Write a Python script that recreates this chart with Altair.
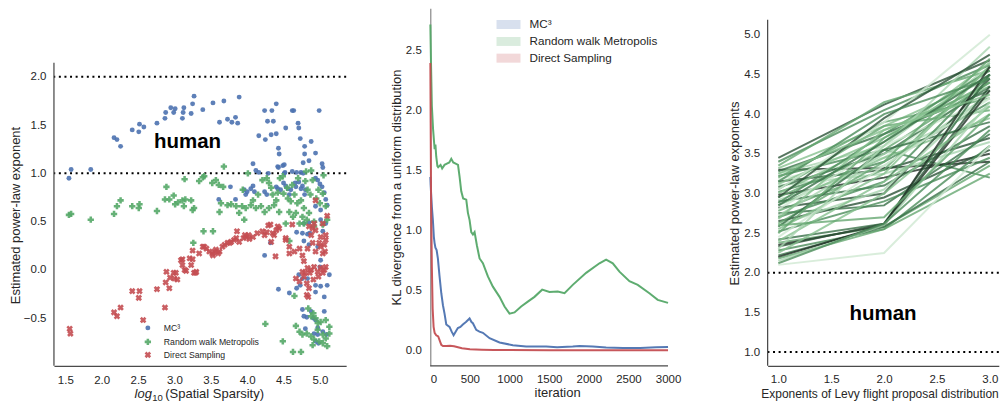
import altair as alt
import pandas as pd

FONT = "Liberation Sans"
BLUE, GREEN, RED = "#4C72B0", "#55A868", "#C44E52"
TXT = "#262626"

methods = ["MC\u00b3", "Random walk Metropolis", "Direct Sampling"]

# ---------------- left panel: scatter ----------------
mc3_x = [1.55, 1.58, 1.85, 2.17, 2.21, 2.26, 2.42, 2.51, 2.52, 2.58, 2.76, 2.87, 2.88, 2.95, 2.99, 3.01,
         3.11, 3.13, 3.12, 3.23, 3.25, 3.27, 3.39, 3.53, 3.68, 3.89, 3.62, 3.73, 3.79, 3.84, 3.87, 4.16,
         4.25, 4.33, 4.40, 4.24, 4.34, 4.40, 4.28, 4.36, 4.62, 4.64, 4.70, 4.71, 4.53, 4.73, 4.43, 4.44,
         4.79, 4.79, 4.88, 4.77, 4.85, 4.94, 4.99, 5.03, 5.04, 4.08, 4.12, 4.16, 4.43, 4.49, 4.29, 4.52,
         4.62, 4.68, 3.77, 3.61, 3.84, 3.96, 4.05, 4.08, 3.98, 4.24, 4.27, 4.42, 4.46, 4.50, 4.53, 4.56,
         4.60, 4.58, 4.66, 4.71, 4.76, 4.79, 4.80, 4.94, 5.03, 5.06, 5.08, 4.97, 4.94, 5.01, 5.10, 4.78,
         4.85, 4.51, 4.42, 4.51, 4.74, 4.77, 4.40, 4.67, 4.74, 5.00, 4.00, 4.10, 4.24, 4.43, 4.58, 4.68,
         4.71, 4.76, 4.83, 4.73, 4.94, 5.01, 5.10, 5.13, 4.94, 5.06, 4.68, 4.76, 4.83, 4.86, 4.78, 4.85,
         4.97, 5.01, 5.04, 5.01, 5.08, 4.32, 4.76, 4.88, 4.91, 4.82, 4.94, 5.06, 4.97, 4.80, 4.92, 4.97,
         5.04, 5.09, 4.98, 4.94, 4.78, 5.00]
mc3_y = [0.95, 1.04, 1.04, 1.37, 1.35, 1.28, 1.45, 1.43, 1.51, 1.48, 1.52, 1.57, 1.63, 1.68, 1.63, 1.67,
         1.57, 1.68, 1.63, 1.62, 1.72, 1.80, 1.66, 1.73, 1.75, 1.79, 1.53, 1.56, 1.53, 1.58, 1.52, 1.39,
         1.35, 1.40, 1.41, 1.65, 1.65, 1.72, 1.54, 1.54, 1.65, 1.65, 1.52, 1.47, 1.47, 1.36, 1.26, 1.20,
         1.28, 1.20, 1.33, 1.11, 1.13, 1.21, 1.65, 1.10, 1.06, 1.10, 1.03, 1.01, 1.06, 1.08, 1.00, 1.01,
         1.02, 1.01, 0.86, 0.73, 0.73, 0.83, 0.84, 0.87, 0.78, 0.81, 0.78, 0.84, 0.83, 0.90, 0.87, 0.84,
         0.83, 0.78, 0.90, 0.91, 0.87, 0.78, 0.83, 0.95, 0.86, 0.80, 0.73, 0.93, 0.66, 0.62, 0.67, 0.48,
         0.49, 1.09, 1.07, 1.00, 1.01, 1.00, 0.86, 0.86, 0.84, 0.89, 0.81, 0.81, 0.15, -0.20, -0.24, -0.19,
         -0.05, -0.09, -0.09, -0.16, -0.16, -0.17, -0.16, -0.05, -0.23, -0.28, 0.39, 0.38, 0.37, 0.38, 0.30, 0.26,
         0.24, 0.10, 0.40, 0.52, 0.48, 0.28, -0.41, -0.43, -0.50, -0.49, -0.52, -0.43, -0.60, -0.61, -0.66, -0.67,
         -0.64, -0.67, -0.76, -0.74, -0.48, 0.03]

rwm_x = [1.55, 1.58, 1.85, 2.17, 2.21, 2.26, 2.42, 2.51, 2.52, 2.76, 2.89, 2.87, 2.93, 2.99, 3.01, 3.05,
         3.11, 3.13, 3.15, 3.23, 3.25, 3.27, 3.34, 3.14, 3.39, 3.68, 3.41, 3.52, 3.57, 3.61, 3.62, 3.64,
         3.73, 3.78, 3.85, 3.93, 3.98, 4.05, 4.12, 4.19, 4.24, 4.30, 4.37, 4.44, 3.67, 3.94, 3.96, 3.89,
         4.01, 4.21, 4.30, 4.35, 4.40, 4.45, 4.50, 4.56, 4.60, 4.65, 4.69, 4.74, 4.78, 4.83, 4.87, 4.90,
         4.95, 5.00, 5.04, 5.08, 4.85, 4.76, 4.67, 4.58, 4.53, 4.63, 4.72, 4.82, 4.92, 4.81, 4.88, 4.49,
         4.27, 3.53, 3.26, 4.58, 4.65, 4.25, 4.49, 4.63, 4.74, 4.84, 4.88, 4.91, 4.94, 4.97, 5.01, 5.08,
         4.67, 4.72, 4.76, 4.82, 4.88, 4.92, 4.97, 5.04, 5.08, 5.13, 5.04, 5.10, 4.90, 4.99, 5.13, 3.40,
         4.78, 4.92, 5.04, 5.10, 4.62, 4.70, 4.80, 4.98, 5.05, 4.55, 4.42, 4.33, 4.15, 4.08]
rwm_y = [0.57, 0.58, 0.52, 0.58, 0.66, 0.72, 0.66, 0.64, 0.68, 0.61, 0.86, 0.73, 0.73, 0.77, 0.68, 0.70,
         0.72, 0.66, 0.73, 0.72, 0.62, 0.64, 0.92, 0.94, 0.96, 1.07, 0.97, 0.90, 0.93, 0.88, 0.60, 0.69,
         0.67, 0.68, 0.66, 0.66, 0.64, 0.67, 0.64, 0.66, 0.60, 0.64, 0.67, 0.60, 0.86, 0.83, 0.52, 0.59,
         1.00, 0.93, 0.90, 0.78, 0.72, 0.95, 0.79, 0.74, 0.71, 0.78, 0.69, 0.72, 0.64, 0.83, 0.78, 0.93,
         0.74, 0.69, 0.79, 0.66, 0.59, 0.55, 0.59, 0.60, 0.48, 0.55, 0.48, 0.52, 0.45, 1.02, 1.03, 0.97,
         0.95, 0.40, 0.28, 0.30, -0.27, -0.56, -0.74, -0.85, -0.85, -0.40, -0.48, -0.45, -0.50, -0.55, -0.54, -0.52,
         -0.58, -0.64, -0.67, -0.66, -0.69, -0.72, -0.62, -0.67, -0.71, -0.66, -0.76, -0.79, -0.78, -0.74, -0.59, 0.40,
         0.48, 0.50, 0.47, 0.52, 0.88, 0.95, 0.92, 0.83, 0.98, 0.85, 0.80, 0.85, 0.78, 0.72]

ds_x = [1.56, 1.57, 2.17, 2.21, 2.26, 2.42, 2.52, 2.51, 2.57, 2.76, 2.87, 2.88, 2.93, 2.94, 2.99, 3.02,
        3.04, 3.11, 3.11, 3.14, 3.16, 3.23, 3.25, 3.27, 3.34, 3.25, 3.39, 3.21, 3.29, 3.41, 3.48, 3.52,
        3.55, 3.57, 3.62, 3.66, 3.69, 3.73, 3.78, 3.82, 3.85, 3.89, 3.95, 3.99, 4.03, 4.08, 4.14, 4.24,
        4.27, 4.32, 4.37, 4.40, 4.44, 4.33, 4.53, 4.62, 4.39, 3.44, 3.53, 3.60, 3.76, 3.86, 3.97, 4.02,
        4.21, 4.29, 4.35, 4.42, 4.58, 4.65, 4.72, 4.76, 4.83, 4.90, 4.94, 4.99, 5.01, 5.06, 5.08, 5.04,
        5.07, 4.78, 4.83, 4.88, 4.92, 4.97, 5.01, 5.06, 5.08, 5.04, 4.76, 4.80, 4.86, 4.67, 4.72, 4.78,
        4.82, 4.91, 4.98, 4.85, 4.82, 4.84, 5.04, 5.08, 4.90, 4.85, 4.88, 4.94, 5.01, 4.92, 4.94, 5.10,
        4.58, 4.53, 2.89, 3.00, 3.09, 3.30]
ds_y = [-0.61, -0.66, -0.44, -0.48, -0.39, -0.22, -0.22, -0.29, -0.52, -0.20, -0.39, -0.13, -0.19, -0.08, -0.03, -0.03,
        -0.10, 0.11, 0.05, 0.00, -0.01, 0.05, 0.11, -0.03, 0.17, 0.20, 0.24, 0.12, -0.03, 0.24, 0.19, 0.17,
        0.19, 0.21, 0.19, 0.24, 0.26, 0.28, 0.29, 0.31, 0.33, 0.29, 0.33, 0.34, 0.32, 0.34, 0.38, 0.36,
        0.39, 0.47, 0.36, 0.41, 0.43, 0.29, 0.33, 0.47, 0.14, 0.22, 0.15, 0.17, 0.28, 0.40, 0.36, 0.36,
        0.40, 0.46, 0.38, 0.45, 0.24, 0.19, 0.22, 0.15, 0.22, 0.28, 0.19, 0.28, 0.24, 0.26, 0.31, 0.17,
        0.19, 0.09, 0.02, 0.00, 0.03, -0.02, 0.02, 0.00, 0.03, -0.03, -0.02, -0.03, -0.03, -0.09, -0.12, -0.07,
        -0.14, -0.10, -0.07, -0.19, -0.26, -0.28, 0.48, 0.36, 0.43, 0.45, 0.36, 0.41, 0.34, 0.48, 0.72, 0.56,
        0.17, 0.31, -0.02, -0.09, 0.10, -0.02]

left_refs = [2.0, 1.0]
left_xticks = [1.5, 2.0, 2.5, 3.0, 3.5, 4.0, 4.5, 5.0]
left_yticks = [-0.5, 0.0, 0.5, 1.0, 1.5, 2.0]

# ---------------- middle panel: KL divergence ----------------
mc3_it = [1, 5, 13, 20, 33, 45, 54, 65, 80, 96, 117, 139, 160, 180, 202, 243, 270, 294, 320, 348, 380, 411,
          450, 496, 520, 538, 580, 620, 664, 748, 874, 1042, 1210, 1463, 1600, 1798, 1883, 2051, 2219, 2430,
          2650, 2850, 3000]
mc3_kl = [1.45, 1.38, 1.28, 1.2, 1.09, 0.95, 0.9, 0.86, 0.84, 0.77, 0.62, 0.48, 0.38, 0.31, 0.22, 0.2, 0.16,
          0.13, 0.16, 0.19, 0.2, 0.22, 0.24, 0.27, 0.24, 0.23, 0.175, 0.16, 0.15, 0.105, 0.07, 0.047, 0.036,
          0.036, 0.03, 0.036, 0.04, 0.036, 0.028, 0.023, 0.023, 0.03, 0.033]
rwm_it = [1, 10, 20, 35, 55, 65, 75, 90, 100, 130, 150, 180, 210, 240, 265, 290, 320, 350, 370, 391, 415, 454,
          475, 496, 517, 538, 559, 588, 622, 664, 727, 790, 874, 937, 1000, 1063, 1147, 1231, 1315, 1412, 1504,
          1609, 1694, 1798, 1967, 2135, 2219, 2303, 2387, 2513, 2618, 2765, 2870, 3000]
rwm_kl = [2.72, 2.37, 2.04, 1.85, 1.68, 1.72, 1.62, 1.54, 1.53, 1.55, 1.52, 1.55, 1.56, 1.57, 1.6, 1.57, 1.56,
          1.55, 1.45, 1.33, 1.27, 1.26, 1.15, 1.09, 0.99, 0.97, 0.99, 0.88, 0.77, 0.73, 0.62, 0.535, 0.45, 0.37,
          0.31, 0.32, 0.37, 0.41, 0.45, 0.51, 0.49, 0.495, 0.48, 0.55, 0.65, 0.73, 0.76, 0.73, 0.66, 0.58, 0.55,
          0.48, 0.425, 0.40]
ds_it = [1, 5, 10, 20, 30, 42, 55, 75, 100, 139, 160, 200, 250, 300, 350, 400, 500, 650, 800, 1000, 1500,
         2000, 2500, 3000]
ds_kl = [2.4, 1.9, 1.26, 0.7, 0.35, 0.2, 0.15, 0.13, 0.12, 0.05, 0.04, 0.04, 0.042, 0.038, 0.03, 0.022, 0.014,
         0.01, 0.008, 0.006, 0.005, 0.005, 0.005, 0.005]
mid_xticks = [0, 500, 1000, 1500, 2000, 2500, 3000]
mid_yticks = [0.0, 0.5, 1.0, 1.5, 2.0, 2.5]

# ---------------- right panel: Levy exponents ----------------
levy_exp = [1.0, 2.0, 3.0]
levy_v1 = [3.45, 3.40, 3.35, 3.30, 3.32, 3.28, 3.25, 3.22, 3.20, 3.18, 3.15, 3.12, 3.10, 3.08, 3.05, 3.02,
           3.00, 2.98, 2.95, 2.92, 2.90, 2.88, 2.85, 2.82, 2.80, 2.78, 2.75, 2.72, 2.70, 2.68, 2.65, 2.62,
           2.60, 2.58, 2.55, 2.52, 2.50, 2.45, 2.42, 2.40, 2.38, 2.35, 2.33, 2.30, 2.28, 2.25, 2.22, 2.20,
           2.18, 2.15, 2.12, 2.10, 3.05, 2.95, 3.15, 2.85, 3.25, 2.60]
levy_v2 = [4.12, 4.05, 4.15, 3.32, 3.85, 3.75, 3.60, 3.55, 3.90, 3.45, 3.30, 3.70, 3.25, 3.50, 3.85, 3.40,
           3.65, 3.20, 3.55, 3.35, 3.10, 3.75, 3.45, 3.00, 3.60, 3.30, 2.85, 3.50, 3.15, 3.80, 2.95, 3.40,
           3.05, 3.55, 3.25, 2.90, 3.70, 3.35, 2.62, 3.15, 2.58, 2.60, 2.62, 3.60, 2.55, 3.00, 2.58, 2.60,
           2.55, 2.60, 2.62, 2.25, 3.90, 3.95, 4.00, 3.65, 3.80, 2.70]
levy_v3 = [4.68, 4.62, 4.55, 3.40, 4.45, 4.30, 4.60, 3.20, 4.20, 4.40, 3.70, 4.50, 3.65, 4.35, 4.05, 4.15,
           4.65, 3.50, 4.40, 4.25, 3.85, 4.55, 3.95, 4.45, 4.20, 4.60, 3.75, 4.10, 4.50, 4.35, 3.55, 4.70,
           4.30, 3.90, 4.60, 3.45, 4.40, 4.20, 4.50, 4.00, 3.35, 4.30, 4.35, 4.85, 3.60, 4.10, 3.40, 4.60,
           3.25, 4.15, 3.80, 3.60, 5.00, 4.75, 4.45, 4.50, 4.25, 4.00]
levy_shade = [6, 4, 3, 7, 2, 5, 1, 4, 3, 0, 6, 2, 1, 5, 3, 4, 2, 7, 3, 1, 5, 4, 2, 6, 0, 3, 5, 1, 4, 2, 6, 3,
              1, 5, 2, 4, 3, 0, 5, 2, 3, 7, 6, 1, 4, 2, 5, 7, 3, 1, 4, 0, 0, 6, 4, 5, 2, 3]
shades = ["#cfe8d2", "#a9d4b0", "#86c08f", "#66a772", "#4b8c5a", "#3a7049", "#2c5337", "#1f2f24"]
right_refs = [2.0, 1.0]
right_xticks = [1.0, 1.5, 2.0, 2.5, 3.0]
right_yticks = [1.0, 1.5, 2.0, 2.5, 3.0, 3.5, 4.0, 4.5, 5.0]

# ---------------- geometry ----------------
H = 358
W_L, W_M, W_R = 292.5, 253.9, 231.4
SPINE = "#4a4a4a"

# ================= LEFT =================
XL = alt.X("x:Q", scale=alt.Scale(domain=[1.344, 5.361], nice=False, zero=False),
           axis=alt.Axis(values=left_xticks, format=".1f", title=None, labelPadding=9))
YL = alt.Y("y:Q", scale=alt.Scale(domain=[-0.994, 2.711], nice=False, zero=False),
           axis=alt.Axis(values=left_yticks, format=".1f", domain=False, labelPadding=8,
                         title="Estimated power-law exponent", titleX=-38, titleY=207,
                         titleBaseline="middle", titleAlign="center"))

df_mc3 = pd.DataFrame({"x": mc3_x, "y": mc3_y})
df_rwm = pd.DataFrame({"x": rwm_x, "y": rwm_y})
df_ds = pd.DataFrame({"x": ds_x, "y": ds_y})

l_refs = alt.Chart(pd.DataFrame({"y": left_refs})).mark_rule(
    color="black", strokeDash=[2, 3.6], strokeWidth=2).encode(y=YL)
l_spine = alt.Chart(pd.DataFrame({"y": [-0.994], "y2": [2.145]})).mark_rule(
    color=SPINE, strokeWidth=1.25).encode(x=alt.value(0), y=YL, y2="y2:Q")
l_mc3 = alt.Chart(df_mc3).mark_point(filled=True, shape="circle", size=24, color=BLUE, opacity=0.9).encode(x=XL, y=YL)
l_rwm = alt.Chart(df_rwm).mark_point(filled=True, shape="cross", size=40, color=GREEN, opacity=0.9).encode(x=XL, y=YL)
l_ds = alt.Chart(df_ds).mark_point(filled=True, shape="cross", angle=45, size=44, color=RED, opacity=0.9).encode(x=XL, y=YL)
l_human = alt.Chart(pd.DataFrame({"x": [3.18], "y": [1.32], "t": ["human"]})).mark_text(
    font=FONT, fontSize=20.5, fontWeight="bold", color="black").encode(x=XL, y=YL, text="t:N")

leg_shapes = [("circle", 0, BLUE, 24), ("cross", 0, GREEN, 40), ("cross", 45, RED, 44)]
leg_y = [320, 334, 347]
l_leg = []
for (shp, ang, col, sz), m, yy in zip(leg_shapes, methods, leg_y):
    d = pd.DataFrame({"t": [m]})
    l_leg.append(alt.Chart(d).mark_point(filled=True, shape=shp, angle=ang, size=sz, color=col, opacity=0.9)
                 .encode(x=alt.value(94), y=alt.value(yy)))
    l_leg.append(alt.Chart(d).mark_text(font=FONT, fontSize=8.7, align="left", baseline="middle", color=TXT)
                 .encode(x=alt.value(110), y=alt.value(yy), text="t:N"))

xt = pd.DataFrame({"a": ["log"], "b": ["10"], "c": ["(Spatial Sparsity)"]})
l_xt = [
    alt.Chart(xt).mark_text(font=FONT, fontSize=13, fontStyle="italic", align="left", baseline="middle", color=TXT)
    .encode(x=alt.value(80.7), y=alt.value(386.5), text="a:N"),
    alt.Chart(xt).mark_text(font=FONT, fontSize=9.5, align="left", baseline="middle", color=TXT)
    .encode(x=alt.value(98.4), y=alt.value(390), text="b:N"),
    alt.Chart(xt).mark_text(font=FONT, fontSize=13, align="left", baseline="middle", color=TXT)
    .encode(x=alt.value(111.4), y=alt.value(386.5), text="c:N"),
]

left = alt.layer(l_refs, l_mc3, l_rwm, l_ds, l_human, l_spine, *l_leg, *l_xt).properties(width=W_L, height=H)

# ================= MIDDLE =================
XM = alt.X("it:Q", scale=alt.Scale(domain=[0, 3200.6], nice=False, zero=False),
           axis=alt.Axis(values=mid_xticks, format="d", domain=False, labelPadding=8,
                         title="iteration", titleY=27, titleBaseline="middle"))
YM = alt.Y("kl:Q", scale=alt.Scale(domain=[-0.125, 2.856], nice=False, zero=False),
           axis=alt.Axis(values=mid_yticks, format=".1f", labelPadding=9, domainColor="#8c8c8c",
                         title="KL divergence from a uniform distribution", titleX=-34,
                         titleBaseline="middle", titleAlign="center"))

df_mid = pd.concat([
    pd.DataFrame({"it": mc3_it, "kl": mc3_kl, "m": methods[0]}),
    pd.DataFrame({"it": rwm_it, "kl": rwm_kl, "m": methods[1]}),
    pd.DataFrame({"it": ds_it, "kl": ds_kl, "m": methods[2]}),
])
m_lines = alt.Chart(df_mid).mark_line(strokeWidth=2, opacity=0.95).encode(
    x=XM, y=YM, detail="m:N",
    color=alt.Color("m:N", scale=alt.Scale(domain=methods, range=[BLUE, GREEN, RED]), legend=None))
m_spine = alt.Chart(pd.DataFrame({"it": [0], "it2": [3000]})).mark_rule(
    color=SPINE, strokeWidth=1.25).encode(x=XM, x2="it2:Q", y=alt.value(H))

m_leg = []
for col, m, yc in zip([BLUE, GREEN, RED], methods, [16.3, 33.3, 50.0]):
    d = pd.DataFrame({"t": [m]})
    m_leg.append(alt.Chart(d).mark_rect(color=col, opacity=0.22).encode(
        x=alt.value(66.3), x2=alt.value(90.3), y=alt.value(yc - 4.5), y2=alt.value(yc + 4.5)))
    m_leg.append(alt.Chart(d).mark_text(font=FONT, fontSize=11.7, align="left", baseline="middle", color=TXT)
                 .encode(x=alt.value(99.3), y=alt.value(yc), text="t:N"))

middle = alt.layer(m_lines, m_spine, *m_leg).properties(width=W_M, height=H)

# ================= RIGHT =================
XR = alt.X("exp:Q", scale=alt.Scale(domain=[0.899, 3.085], nice=False, zero=False),
           axis=alt.Axis(values=right_xticks, format=".1f", labelPadding=8,
                         title="Exponents of Levy flight proposal distribution", titleX=112, titleY=28,
                         titleBaseline="middle", titleAlign="center", titleFontSize=12))
YR = alt.Y("v:Q", scale=alt.Scale(domain=[0.827, 5.336], nice=False, zero=False),
           axis=alt.Axis(values=right_yticks, format=".1f", domain=False, labelPadding=8,
                         title="Estimated power-law exponents", titleX=-33.3, titleY=185,
                         titleBaseline="middle", titleAlign="center"))

rows = []
for i, (a, b, c, s) in enumerate(zip(levy_v1, levy_v2, levy_v3, levy_shade)):
    for e, v in zip(levy_exp, (a, b, c)):
        rows.append({"id": i, "exp": e, "v": v, "shade": s})
df_levy = pd.DataFrame(rows)

r_lines = alt.Chart(df_levy).mark_line(strokeWidth=2, opacity=0.8).encode(
    x=XR, y=YR, detail="id:N",
    color=alt.Color("shade:O", scale=alt.Scale(domain=list(range(8)), range=shades), legend=None))
r_refs = alt.Chart(pd.DataFrame({"v": right_refs})).mark_rule(
    color="black", strokeDash=[2, 3.6], strokeWidth=2).encode(y=YR)
r_spine = alt.Chart(pd.DataFrame({"v": [0.827], "v2": [5.19]})).mark_rule(
    color=SPINE, strokeWidth=1.25).encode(x=alt.value(0), y=YR, y2="v2:Q")
r_human = alt.Chart(pd.DataFrame({"exp": [1.99], "v": [1.48], "t": ["human"]})).mark_text(
    font=FONT, fontSize=20.5, fontWeight="bold", color="black").encode(x=XR, y=YR, text="t:N")

right = alt.layer(r_lines, r_refs, r_spine, r_human).properties(width=W_R, height=H)

chart = alt.hconcat(left, middle, right, spacing=83.7, bounds="flush").resolve_scale(
    color="independent"
).properties(
    padding={"left": 2, "top": 0, "right": 0, "bottom": 0}
).configure_view(stroke=None).configure_axis(
    grid=False, ticks=False, labelFont=FONT, labelFontSize=11.5, labelColor=TXT,
    titleFont=FONT, titleFontSize=13, titleFontWeight="normal", titleColor=TXT,
    domainColor=SPINE, domainWidth=1.25,
)

chart.save("out.html", embed_options={"renderer": "svg", "actions": False})
